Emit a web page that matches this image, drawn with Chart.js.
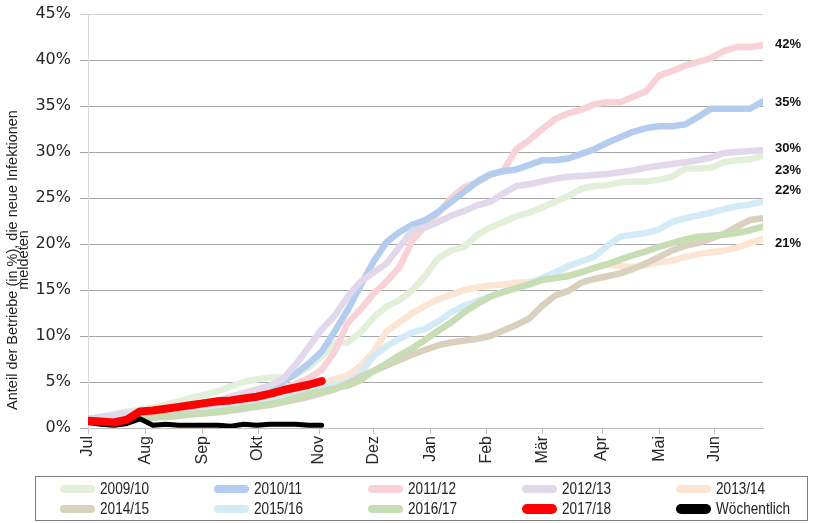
<!DOCTYPE html>
<html>
<head>
<meta charset="utf-8">
<script src="https://cdn.jsdelivr.net/npm/chart.js@4.4.0/dist/chart.umd.min.js"></script>
<style>
  html, body { margin: 0; padding: 0; background: #fff; }
  #wrap { position: relative; width: 820px; height: 523px; }
  #legend {
    position: absolute; left: 35px; top: 476px; width: 773px; height: 45px;
    border: 1px solid #7f7f7f; box-sizing: border-box;
    display: grid; grid-template-columns: repeat(5, 154px); grid-auto-rows: 20px;
    padding: 2px 0 0 24px;
    font-family: "Liberation Sans", sans-serif; font-size: 16px; color: #222;
  }
  .item { display: flex; align-items: center; white-space: nowrap; }
  .sw { width: 35px; border-radius: 5px; margin-right: 5px; flex: none; }
  .txt { display: inline-block; transform: scaleX(0.85); transform-origin: left center; }
</style>
</head>
<body>
<div id="wrap">
  <canvas id="chart" width="820" height="523"></canvas>
  <div id="legend"></div>
</div>
<script>
// Monats-Achse (Wochen ab Juli)
const monthTicks = [0, 4.4, 8.8, 13.1, 17.8, 22, 26.4, 30.7, 35, 39.6, 44, 48.3];
const monthLabels = ['Jul', 'Aug', 'Sep', 'Okt', 'Nov', 'Dez', 'Jan', 'Feb', 'Mär', 'Apr', 'Mai', 'Jun'];

const seriesNames = ['2009/10', '2010/11', '2011/12', '2012/13', '2013/14',
                     '2014/15', '2015/16', '2016/17', '2017/18', 'Wöchentlich'];

// kumulierter Anteil pro Woche (%)
const s0910 = [1.0,1.2,1.5,1.8,2.0,2.2,2.5,2.9,3.3,3.6, 4.0,4.5,5.0,5.3,5.5,5.5,5.8,6.6,7.8,9.2,
               9.3,10.4,12.0,13.2,13.9,15.0,16.6,18.5,19.3,19.7, 21.0,21.8,22.4,23.0,23.4,24.0,24.6,25.2,26.0,26.3,
               26.4,26.7,26.8,26.8,27.0,27.3,28.2,28.2,28.3,28.9, 29.1,29.2,29.6];
const s1011 = [1.0,1.1,1.3,1.5,1.8,1.9,2.1,2.3,2.5,2.8, 3.0,3.3,3.6,4.0,4.4,5.0,5.9,7.0,8.3,10.5,
               12.8,15.5,18.1,20.2,21.3,22.1,22.6,23.5,24.6,25.7, 26.8,27.6,27.9,28.1,28.6,29.1,29.1,29.3,29.8,30.3,
               31.0,31.6,32.2,32.6,32.8,32.8,33.0,33.8,34.7,34.7, 34.7,34.7,35.5];
const s1112 = [0.9,1.1,1.3,1.5,1.8,1.9,2.0,2.1,2.3,2.5, 2.7,3.0,3.3,3.6,3.9,4.3,4.8,5.4,6.3,8.3,
               11.4,12.9,14.6,15.9,17.5,20.4,22.0,23.4,25.0,26.2, 26.7,27.5,28.0,30.3,31.3,32.5,33.6,34.2,34.6,35.2,
               35.4,35.4,36.0,36.6,38.3,38.8,39.4,39.8,40.2,41.0, 41.4,41.4,41.6];
const s1213 = [1.0,1.2,1.4,1.6,1.8,1.9,2.0,2.2,2.4,2.7, 3.0,3.4,3.8,4.2,4.6,5.3,6.9,8.8,10.7,12.2,
               14.3,15.9,16.9,17.9,19.7,21.5,21.8,22.4,23.1,23.6, 24.2,24.6,25.5,26.3,26.5,26.8,27.1,27.3,27.4,27.5,
               27.6,27.8,28.0,28.3,28.5,28.7,28.9,29.1,29.4,29.9, 30.0,30.1,30.2];
const s1314 = [0.8,0.9,1.0,1.1,1.3,1.4,1.5,1.6,1.8,2.0, 2.2,2.4,2.6,2.8,3.0,3.3,3.7,4.2,4.9,5.3,
               5.7,6.8,8.3,10.5,11.5,12.5,13.3,14.0,14.5,15.0, 15.3,15.5,15.6,15.8,15.9,16.1,16.3,16.6,17.0,17.4,
               17.8,17.6,17.5,17.7,18.0,18.2,18.6,18.9,19.1,19.3, 19.6,20.1,20.6];
const s1415 = [0.6,0.7,0.8,0.9,1.0,1.1,1.2,1.3,1.5,1.6, 1.7,1.9,2.1,2.3,2.5,2.8,3.1,3.4,3.8,4.2,
               4.8,5.6,6.2,6.8,7.4,8.0,8.5,9.0,9.3,9.5, 9.7,10.0,10.6,11.2,11.9,13.3,14.4,14.9,15.8,16.2,
               16.5,16.8,17.3,17.9,18.6,19.3,19.8,20.1,20.6,21.1, 21.9,22.6,22.8];
const s1516 = [0.8,0.9,1.0,1.2,1.3,1.4,1.5,1.6,1.8,1.9, 2.1,2.3,2.5,2.7,2.9,3.2,3.5,3.9,4.3,4.6,
               5.0,6.0,7.8,8.9,9.7,10.4,10.8,11.6,12.6,13.3, 13.8,14.3,14.8,15.2,15.7,16.3,16.9,17.6,18.1,18.6,
               19.8,20.8,21.0,21.2,21.6,22.4,22.8,23.1,23.4,23.8, 24.1,24.3,24.6];
const s1617 = [0.7,0.8,0.9,1.0,1.1,1.2,1.3,1.4,1.5,1.6, 1.8,2.0,2.2,2.4,2.6,2.9,3.3,3.7,4.0,4.3,
               4.6,5.2,6.2,7.0,7.9,8.7,9.6,10.6,11.5,12.6, 13.5,14.3,14.8,15.2,15.6,16.1,16.3,16.5,16.9,17.4,
               17.8,18.3,18.8,19.2,19.7,20.1,20.5,20.8,20.9,21.0, 21.2,21.5,21.9];
const s1718 = [0.8,0.7,0.6,0.9,1.8,1.9,2.1,2.3,2.5,2.7, 2.9,3.0,3.2,3.4,3.7,4.1,4.4,4.7,5.1];
const weekly = [0.6,0.4,0.3,0.5,1.0,0.3,0.4,0.3,0.3,0.3, 0.3,0.2,0.4,0.3,0.4,0.4,0.4,0.3,0.3];

// Beschriftungen am rechten Rand
const endLabels = ['42%', '35%', '30%', '23%', '22%', '21%'];
const endLabelValues = [41.7, 35.4, 30.4, 28.0, 25.8, 20.1];

const seriesData = [s0910, s1011, s1112, s1213, s1314, s1415, s1516, s1617, s1718, weekly];
const seriesColors = ['#e2efd9', '#b4cdee', '#f8d2d7', '#e2d8ec', '#fde5d3',
                      '#d9d0be', '#d3ebf6', '#c7ddb3', '#ff0000', '#000000'];
const lineWidths = [6.5, 6.5, 6.5, 6.5, 6.5, 6.5, 6.5, 6.5, 8, 5];
const drawOrder = [9, 3, 4, 2, 8, 6, 7, 5, 0, 1];

const datasets = seriesData.map((arr, k) => ({
    label: seriesNames[k],
    data: arr.map((v, i) => ({ x: i, y: v })),
    borderColor: seriesColors[k],
    backgroundColor: seriesColors[k],
    borderWidth: lineWidths[k],
    borderJoinStyle: 'round',
    borderCapStyle: 'round',
    pointRadius: 0,
    tension: 0,
    fill: false,
    order: drawOrder[k]
}));

const endLabelPlugin = {
    id: 'endLabels',
    afterDatasetsDraw(chart) {
        const { ctx, chartArea, scales } = chart;
        ctx.save();
        ctx.font = 'bold 13px "Liberation Sans", sans-serif';
        ctx.fillStyle = '#111';
        ctx.textAlign = 'left';
        ctx.textBaseline = 'middle';
        endLabels.forEach((t, i) => {
            ctx.fillText(t, chartArea.right + 12, scales.y.getPixelForValue(endLabelValues[i]));
        });
        ctx.restore();
    }
};

const axisTitlePlugin = {
    id: 'axisTitle',
    afterDraw(chart) {
        const ctx = chart.ctx;
        ctx.save();
        ctx.font = '14.5px "Liberation Sans", sans-serif';
        ctx.fillStyle = '#222';
        ctx.textAlign = 'center';
        ctx.textBaseline = 'middle';
        ctx.translate(13, 260);
        ctx.rotate(-Math.PI / 2);
        ctx.fillText('Anteil der Betriebe (in %), die neue Infektionen', 0, 0);
        ctx.fillText('meldeten', 0, 11);
        ctx.restore();
    }
};

const chart = new Chart(document.getElementById('chart'), {
    type: 'line',
    data: { datasets: datasets },
    options: {
        responsive: false,
        animation: false,
        layout: { padding: { left: 0, right: 57, top: 14, bottom: 57 } },
        plugins: {
            legend: { display: false },
            tooltip: { enabled: false }
        },
        scales: {
            x: {
                type: 'linear',
                min: 0,
                max: 52,
                afterBuildTicks: s => { s.ticks = monthTicks.map(v => ({ value: v })); },
                afterFit: s => { s.height = 38; s.paddingLeft = 0; s.paddingRight = 0; },
                ticks: {
                    autoSkip: false,
                    minRotation: 90,
                    maxRotation: 90,
                    padding: 2,
                    color: '#262626',
                    font: { family: 'Liberation Sans', size: 16 },
                    callback: (v, i) => monthLabels[i]
                },
                grid: { drawOnChartArea: false, tickLength: 6, color: '#bfbfbf' },
                border: { color: '#bfbfbf' }
            },
            y: {
                min: 0,
                max: 45,
                afterFit: s => { s.width = 88; s.paddingTop = 0; s.paddingBottom = 0; },
                ticks: {
                    stepSize: 5,
                    padding: 9,
                    color: '#262626',
                    font: { family: 'DejaVu Sans', size: 16 },
                    callback: v => v + '%'
                },
                grid: {
                    tickLength: 8,
                    color: ctx => ctx.tick && ctx.tick.value === 45 ? '#d4d4d4' : '#a6a6a6'
                },
                border: { color: '#d9d9d9' }
            }
        }
    },
    plugins: [endLabelPlugin, axisTitlePlugin]
});

// Legende als Raster (5 Spalten)
const legendEl = document.getElementById('legend');
seriesNames.forEach((name, k) => {
    const item = document.createElement('div');
    item.className = 'item';
    const sw = document.createElement('span');
    sw.className = 'sw';
    sw.style.background = seriesColors[k];
    sw.style.height = (k >= 8 ? 10 : 8) + 'px';
    const txt = document.createElement('span');
    txt.className = 'txt';
    txt.textContent = name;
    item.appendChild(sw);
    item.appendChild(txt);
    legendEl.appendChild(item);
});
</script>
</body>
</html>
